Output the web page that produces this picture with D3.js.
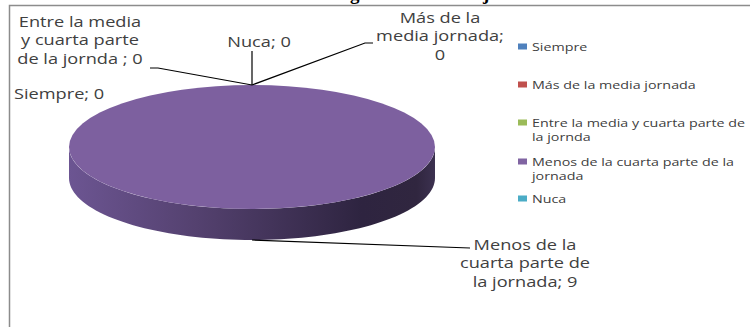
<!DOCTYPE html>
<html><head><meta charset="utf-8">
<script src="https://cdn.jsdelivr.net/npm/d3@7"></script>
<style>html,body{margin:0;padding:0;background:#fff;overflow:hidden}</style>
</head><body>
<svg id="c" width="750" height="327"></svg>
<script>
// ---- data ----
const title = "Carga horaria de la jornada";
const categories = ["Siempre", "Más de la media jornada", "Entre la media  y cuarta parte de la jornda", "Menos de la cuarta parte de la jornada", "Nuca"];
const values = [0, 0, 0, 9, 0];
const colors = ["#4F81BD", "#C0504D", "#9BBB59", "#8064A2", "#4BACC6"];
const dataLabels = [["Siempre; 0"], ["Más de la", "media jornada;", "0"], ["Entre la media", "y cuarta parte", "de la jornda ; 0"], ["Menos de la", "cuarta parte de", "la jornada; 9"], ["Nuca; 0"]];
const legendLines = [["Siempre"], ["Más de la media jornada"], ["Entre la media  y cuarta parte de", "la jornda"], ["Menos de la cuarta parte de la", "jornada"], ["Nuca"]];

// ---- layout ----
const svg = d3.select("#c");
const W = 750, H = 327;
const cx = 252, cy = 147, rx = 183, ry = 62, depth = 31;
const FONT = "'Open Sans', sans-serif";
const SX = 1.3; // horizontal stretch of the original image

// title (cropped at top)
const tt = svg.append("text").text(title)
  .attr("font-family", "'Liberation Serif', serif").attr("font-weight", "bold").attr("font-size", 19)
  .attr("y", 0).attr("fill", "#000");
const off = tt.node().getSubStringLength(0, 3);
tt.attr("x", 350 - off);

// frame
svg.append("path").attr("d", `M9.5,${H} V5.5 H${W}`).attr("fill", "none").attr("stroke", "#8c8c8c").attr("stroke-width", 1.5);

// pie
const pie = d3.pie().sort(null).value(d => d)(values);
const arc = d3.arc().innerRadius(0).outerRadius(rx);
const defs = svg.append("defs");
const grad = defs.append("linearGradient").attr("id", "side").attr("x1", 0).attr("x2", 1).attr("y1", 0).attr("y2", 0);
[[0, "#6c5592"], [0.35, "#54416f"], [0.8, "#2e2440"], [0.95, "#30263f"], [1, "#3c3150"]].forEach(([o, c]) => grad.append("stop").attr("offset", o).attr("stop-color", c));

const ex = a => cx + rx * Math.sin(a), ey = a => cy - ry * Math.cos(a);
// side band (front half)
const N = 80;
let d = "";
for (let i = 0; i <= N; i++) { const a = Math.PI / 2 + Math.PI * i / N; d += (i ? "L" : "M") + ex(a) + "," + ey(a); }
for (let i = N; i >= 0; i--) { const a = Math.PI / 2 + Math.PI * i / N; d += "L" + ex(a) + "," + (ey(a) + depth); }
svg.append("path").attr("d", d + "Z").attr("fill", "url(#side)");

// top
svg.append("g").attr("transform", `translate(${cx},${cy}) scale(1,${ry / rx})`)
  .selectAll("path").data(pie.filter(p => p.endAngle > p.startAngle)).join("path")
  .attr("d", arc).attr("fill", "#7d609f");

// label helper
function stretchedText(g, x, y, lines, size, anchor, lh, fill) {
  const gg = g.append("g").attr("transform", `translate(${x},${y}) scale(${SX},1)`);
  lines.forEach((t, i) => gg.append("text").text(t).attr("x", 0).attr("y", i * lh)
    .attr("text-anchor", anchor).attr("font-family", FONT).attr("font-size", size).attr("fill", fill || "#404040"));
  return gg;
}

// data labels & leader lines
const labelLayout = [
  { x: 14, y: 99, anchor: "start", line: null },
  { x: 440, y: 23, anchor: "middle", line: [[373, 43], [365, 43]] },
  { x: 80, y: 27, anchor: "middle", line: [[150, 68], [158, 68]] },
  { x: 525, y: 250, anchor: "middle", line: [[470, 248]] },
  { x: 259, y: 47, anchor: "middle", line: [[252, 51]] }
];
pie.forEach((p, i) => {
  const L = labelLayout[i];
  const mid = (p.startAngle + p.endAngle) / 2;
  const px = ex(mid), py = ey(mid) + (Math.cos(mid) < 0 ? depth : 0);
  if (L.line) {
    const pts = L.line.concat([[px, py]]);
    svg.append("path").attr("d", d3.line()(pts)).attr("fill", "none").attr("stroke", "#000").attr("stroke-width", 1.2);
  }
  stretchedText(svg, L.x, L.y, dataLabels[i], 14, L.anchor, 18.5, "#404040");
});

// legend
const legY = [47, 85, 123, 162, 199];
categories.forEach((c, i) => {
  svg.append("rect").attr("x", 518).attr("y", legY[i] - 3.5).attr("width", 9).attr("height", 6).attr("fill", colors[i]);
  stretchedText(svg, 532, legY[i] + 4, legendLines[i], 11, "start", 14, "#404040");
});
</script>
</body></html>
